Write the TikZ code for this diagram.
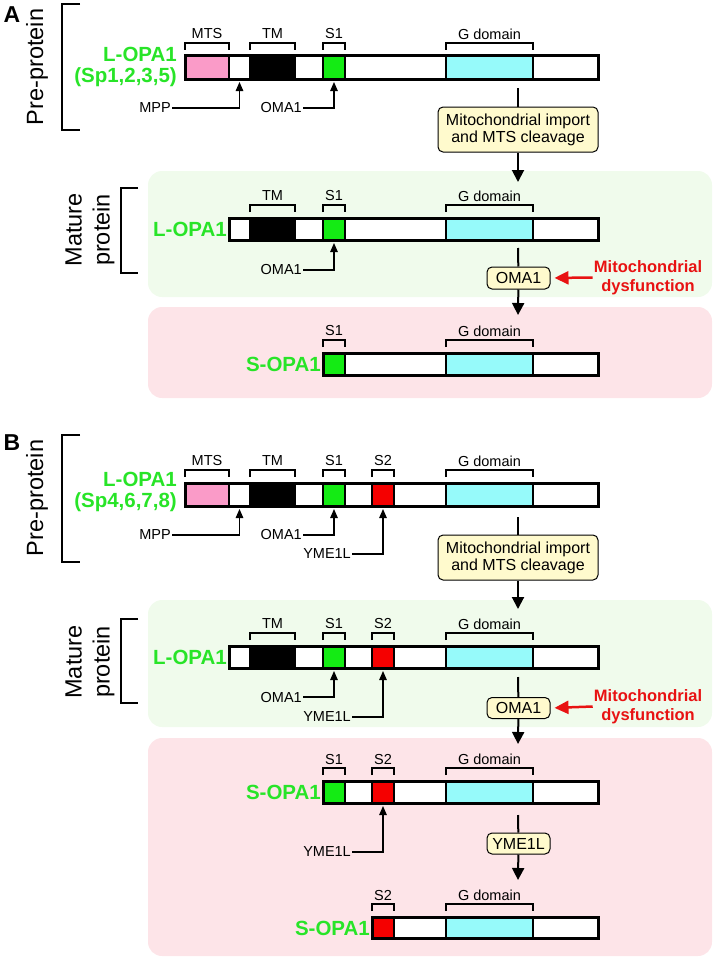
\documentclass[tikz,border=0pt]{standalone}
\usepackage{fontspec}
\setmainfont{Liberation Sans}
\usetikzlibrary{arrows.meta}
\definecolor{mtspink}{RGB}{250,155,200}
\definecolor{sgreen}{RGB}{20,235,20}
\definecolor{gcyan}{RGB}{150,250,250}
\definecolor{s2red}{RGB}{245,0,0}
\definecolor{lgreen}{RGB}{40,228,40}
\definecolor{dred}{RGB}{232,18,18}
\definecolor{boxfill}{RGB}{255,250,205}
\definecolor{bggreen}{RGB}{240,251,236}
\definecolor{bgpink}{RGB}{253,228,232}
\newcommand{\fsz}[2]{\fontsize{#1}{#2}\selectfont}
\newcommand{\mkseg}[6]{\node[segbox,fill=#6,minimum width={(#3-#2)*1pt},minimum height={(#5-#4)*1pt},anchor=north west] (#1) at (#2,#4) {};}
\newcommand{\mybrk}[3]{\draw[brkline] ([yshift=6pt]#1.north west) -- ([yshift=13pt]#1.north west) -- ([yshift=13pt]#1.north east) -- ([yshift=6pt]#1.north east);
  \node[lab] (#2) at ([yshift=22pt]#1.north) {#3};}
\newcommand{\mkcut}[5]{\node[lab,anchor=east] (#1) at (#2,#3) {#4};
  \draw[cutarrow] (#1.east) -| ([yshift=-3pt]#5.south);}
\tikzset{
  segbox/.style={draw=black,line width=2pt,rectangle,inner sep=0pt,outer sep=0pt},
  barout/.style={draw=black,line width=3pt},
  brkline/.style={draw=black,line width=1.1pt},
  lab/.style={font=\fsz{14.5}{17},inner sep=1pt,text=black},
  cutarrow/.style={line width=1.2pt,-{Triangle[length=9pt,width=7.5pt]}},
  flowline/.style={line width=2pt},
  flow/.style={line width=2pt,-{Triangle[length=12pt,width=12pt]}},
  redarrow/.style={draw=dred,line width=2.5pt,-{Triangle[length=14pt,width=13pt]},shorten >=4pt},
  pbox/.style={draw=black,line width=1pt,fill=boxfill,rounded corners=5pt,align=center,inner sep=2pt},
  gl/.style={font=\bfseries\fsz{20.5}{20.5},text=lgreen,inner sep=1pt,align=right},
  redtxt/.style={font=\bfseries\fsz{16.5}{19},text=dred,align=center,inner sep=1pt},
  sidelab/.style={font=\fsz{23.5}{28},rotate=90,align=center,inner sep=0pt},
  biglet/.style={font=\bfseries\fsz{23}{23},inner sep=0pt},
  bigbrk/.style={line width=2.5pt},
  bg/.style={rounded corners=14pt}
}
\begin{document}
\begin{tikzpicture}[x=1pt,y=-1pt]
\useasboundingbox (0,0) rectangle (714,958);
% backgrounds
\fill[bggreen,bg] (148,171) rectangle (712,297);
\fill[bgpink,bg] (148,307) rectangle (712,398);
\fill[bggreen,bg] (148,600) rectangle (712,727);
\fill[bgpink,bg] (148,738) rectangle (712,956);

% ================= A =================
\node[biglet] (labA) at (12,15) {A};
\node[sidelab] (A1pre) at (37,67) {Pre-protein};
\draw[bigbrk] (80,4) -- (62,4) -- (62,130) -- (80,130);
\node[sidelab] (A2mat) at (90,230) {Mature\\protein};
\draw[bigbrk] (138,188) -- (121,188) -- (121,273) -- (138,273);

% A1 bar
\mkseg{A1mts}{185}{229}{56}{79}{mtspink}
\mkseg{A1w1}{229}{250}{56}{79}{white}
\mkseg{A1tm}{250}{295}{56}{79}{black}
\mkseg{A1w2}{295}{323}{56}{79}{white}
\mkseg{A1s1}{323}{345}{56}{79}{sgreen}
\mkseg{A1w3}{345}{446}{56}{79}{white}
\mkseg{A1g}{446}{533}{56}{79}{gcyan}
\mkseg{A1w4}{533}{598}{56}{79}{white}
\draw[barout] (A1mts.north west) rectangle (A1w4.south east);
\mybrk{A1mts}{A1mtsL}{MTS}
\mybrk{A1tm}{A1tmL}{TM}
\mybrk{A1s1}{A1s1L}{S1}
\mybrk{A1g}{A1gL}{G domain}
\node[gl,anchor=east] (A1name) at (178,67) {L-OPA1\\(Sp1,2,3,5)};
\mkcut{A1mpp}{172}{108}{MPP}{A1w1}
\mkcut{A1oma}{303}{108}{OMA1}{A1s1}

% A flow 1
\coordinate (A1o) at (518,88);
\node[pbox,font=\fsz{16}{17},minimum width=160pt,minimum height=45pt] (A1box) at (518,129.5) {Mitochondrial import\\and MTS cleavage};
\coordinate (A2i) at (518,182);
\draw[flowline] (A1o) -- (A1box);
\draw[flow] (A1box) -- (A2i);

% A2 bar
\mkseg{A2w1}{229}{250}{218}{240}{white}
\mkseg{A2tm}{250}{295}{218}{240}{black}
\mkseg{A2w2}{295}{323}{218}{240}{white}
\mkseg{A2s1}{323}{345}{218}{240}{sgreen}
\mkseg{A2w3}{345}{446}{218}{240}{white}
\mkseg{A2g}{446}{533}{218}{240}{gcyan}
\mkseg{A2w4}{533}{598}{218}{240}{white}
\draw[barout] (A2w1.north west) rectangle (A2w4.south east);
\mybrk{A2tm}{A2tmL}{TM}
\mybrk{A2s1}{A2s1L}{S1}
\mybrk{A2g}{A2gL}{G domain}
\node[gl,anchor=east] (A2name) at (228,229) {L-OPA1};
\mkcut{A2oma}{303}{270}{OMA1}{A2s1}

% A flow 2
\coordinate (A2o) at (518,248);
\node[pbox,font=\fsz{16}{17},minimum width=63pt,minimum height=22pt] (A2omab) at (518.5,278) {OMA1};
\coordinate (A3i) at (518,315);
\draw[flowline] (A2o) -- (A2omab);
\draw[flow] (A2omab) -- (A3i);
\node[redtxt] (A2dys) at (648,277.5) {Mitochondrial\\dysfunction};
\draw[redarrow] (A2dys.west) -- (A2omab.east);

% A3 bar
\mkseg{A3s1}{323}{345}{353}{375}{sgreen}
\mkseg{A3w3}{345}{446}{353}{375}{white}
\mkseg{A3g}{446}{533}{353}{375}{gcyan}
\mkseg{A3w4}{533}{598}{353}{375}{white}
\draw[barout] (A3s1.north west) rectangle (A3w4.south east);
\mybrk{A3s1}{A3s1L}{S1}
\mybrk{A3g}{A3gL}{G domain}
\node[gl,anchor=east] (A3name) at (322,364) {S-OPA1};

% ================= B =================
\node[biglet] (labB) at (12,443) {B};
\node[sidelab] (B1pre) at (37,498) {Pre-protein};
\draw[bigbrk] (80,435) -- (62,435) -- (62,562) -- (80,562);
\node[sidelab] (B2mat) at (90,662) {Mature\\protein};
\draw[bigbrk] (138,619) -- (121,619) -- (121,703) -- (138,703);

% B1 bar
\mkseg{B1mts}{185}{229}{483}{506}{mtspink}
\mkseg{B1w1}{229}{250}{483}{506}{white}
\mkseg{B1tm}{250}{295}{483}{506}{black}
\mkseg{B1w2}{295}{323}{483}{506}{white}
\mkseg{B1s1}{323}{345}{483}{506}{sgreen}
\mkseg{B1w3}{345}{372}{483}{506}{white}
\mkseg{B1s2}{372}{394}{483}{506}{s2red}
\mkseg{B1w5}{394}{446}{483}{506}{white}
\mkseg{B1g}{446}{533}{483}{506}{gcyan}
\mkseg{B1w4}{533}{598}{483}{506}{white}
\draw[barout] (B1mts.north west) rectangle (B1w4.south east);
\mybrk{B1mts}{B1mtsL}{MTS}
\mybrk{B1tm}{B1tmL}{TM}
\mybrk{B1s1}{B1s1L}{S1}
\mybrk{B1s2}{B1s2L}{S2}
\mybrk{B1g}{B1gL}{G domain}
\node[gl,anchor=east] (B1name) at (178,492) {L-OPA1\\(Sp4,6,7,8)};
\mkcut{B1mpp}{172}{535}{MPP}{B1w1}
\mkcut{B1oma}{303}{535}{OMA1}{B1s1}
\mkcut{B1yme}{352}{554}{YME1L}{B1s2}

% B flow 1
\coordinate (B1o) at (518,517);
\node[pbox,font=\fsz{16}{17},minimum width=160pt,minimum height=45pt] (B1box) at (518,557.5) {Mitochondrial import\\and MTS cleavage};
\coordinate (B2i) at (518,609);
\draw[flowline] (B1o) -- (B1box);
\draw[flow] (B1box) -- (B2i);

% B2 bar
\mkseg{B2w1}{229}{250}{646}{668}{white}
\mkseg{B2tm}{250}{295}{646}{668}{black}
\mkseg{B2w2}{295}{323}{646}{668}{white}
\mkseg{B2s1}{323}{345}{646}{668}{sgreen}
\mkseg{B2w3}{345}{372}{646}{668}{white}
\mkseg{B2s2}{372}{394}{646}{668}{s2red}
\mkseg{B2w5}{394}{446}{646}{668}{white}
\mkseg{B2g}{446}{533}{646}{668}{gcyan}
\mkseg{B2w4}{533}{598}{646}{668}{white}
\draw[barout] (B2w1.north west) rectangle (B2w4.south east);
\mybrk{B2tm}{B2tmL}{TM}
\mybrk{B2s1}{B2s1L}{S1}
\mybrk{B2s2}{B2s2L}{S2}
\mybrk{B2g}{B2gL}{G domain}
\node[gl,anchor=east] (B2name) at (228,657) {L-OPA1};
\mkcut{B2oma}{303}{697}{OMA1}{B2s1}
\mkcut{B2yme}{352}{717}{YME1L}{B2s2}

% B flow 2
\coordinate (B2o) at (518,677);
\node[pbox,font=\fsz{16}{17},minimum width=63pt,minimum height=21pt] (B2omab) at (518.5,708) {OMA1};
\coordinate (B3i) at (518,744);
\draw[flowline] (B2o) -- (B2omab);
\draw[flow] (B2omab) -- (B3i);
\node[redtxt] (B2dys) at (648,706.5) {Mitochondrial\\dysfunction};
\draw[redarrow] (B2dys.west) -- (B2omab.east);

% B3 bar
\mkseg{B3s1}{323}{345}{781}{803}{sgreen}
\mkseg{B3w3}{345}{372}{781}{803}{white}
\mkseg{B3s2}{372}{394}{781}{803}{s2red}
\mkseg{B3w5}{394}{446}{781}{803}{white}
\mkseg{B3g}{446}{533}{781}{803}{gcyan}
\mkseg{B3w4}{533}{598}{781}{803}{white}
\draw[barout] (B3s1.north west) rectangle (B3w4.south east);
\mybrk{B3s1}{B3s1L}{S1}
\mybrk{B3s2}{B3s2L}{S2}
\mybrk{B3g}{B3gL}{G domain}
\node[gl,anchor=east] (B3name) at (322,792) {S-OPA1};
\mkcut{B3yme}{352}{852}{YME1L}{B3s2}

% B flow 3
\coordinate (B3o) at (518,815);
\node[pbox,font=\fsz{16}{17},minimum width=63pt,minimum height=21pt] (B3ymeb) at (518.5,843.5) {YME1L};
\coordinate (B4i) at (518,880);
\draw[flowline] (B3o) -- (B3ymeb);
\draw[flow] (B3ymeb) -- (B4i);

% B4 bar
\mkseg{B4s2}{372}{394}{917}{938}{s2red}
\mkseg{B4w5}{394}{446}{917}{938}{white}
\mkseg{B4g}{446}{533}{917}{938}{gcyan}
\mkseg{B4w4}{533}{598}{917}{938}{white}
\draw[barout] (B4s2.north west) rectangle (B4w4.south east);
\mybrk{B4s2}{B4s2L}{S2}
\mybrk{B4g}{B4gL}{G domain}
\node[gl,anchor=east] (B4name) at (371,928) {S-OPA1};
\end{tikzpicture}
\end{document}
